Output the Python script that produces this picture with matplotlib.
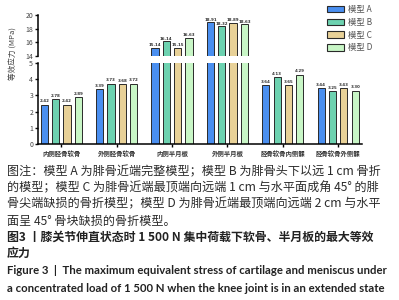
import matplotlib
matplotlib.use("Agg")
import matplotlib.pyplot as plt
import numpy as np
from matplotlib.patches import Patch

categories = ["内侧胫骨软骨", "外侧胫骨软骨", "内侧半月板", "外侧半月板", "胫骨软骨内侧髁", "胫骨软骨外侧髁"]
series_names = ["模型 A", "模型 B", "模型 C", "模型 D"]
model_a = [2.42, 3.39, 15.14, 18.91, 3.64, 3.44]
model_b = [2.78, 3.73, 16.14, 18.32, 4.13, 3.25]
model_c = [2.42, 3.68, 15.15, 18.89, 3.65, 3.43]
model_d = [2.89, 3.72, 16.63, 18.63, 4.29, 3.30]
colors = ["#4a8ff0", "#6dd2b0", "#e8d197", "#c8f6c6"]

caption_lines = [
    "图注：模型 A 为腓骨近端完整模型；模型 B 为腓骨头下以远 1 cm 骨折",
    "的模型；模型 C 为腓骨近端最顶端向远端 1 cm 与水平面成角 45° 的腓",
    "骨尖端缺损的骨折模型；模型 D 为腓骨近端最顶端向远端 2 cm 与水平",
    "面呈 45° 骨块缺损的骨折模型。",
]
title_cn = ["图3 丨膝关节伸直状态时 1 500 N 集中荷载下软骨、半月板的最大等效", "应力"]
title_en = ["Figure 3  |  The maximum equivalent stress of cartilage and meniscus under",
            "a concentrated load of 1 500 N when the knee joint is in an extended state"]

plt.rcParams['font.family'] = ['Noto Sans CJK SC', 'DejaVu Sans']

fig = plt.figure(figsize=(3.99, 3.0), dpi=100)
W, H = 399, 300
left = 38 / W
right = 362 / W
ax_lo = fig.add_axes([left, 1 - 144 / H, right - left, (144 - 63) / H])
ax_hi = fig.add_axes([left, 1 - 56 / H, right - left, (56 - 15) / H])

series = [model_a, model_b, model_c, model_d]
x = np.arange(len(categories))
bw = 0.13
stride = 0.205
for i, (vals, c) in enumerate(zip(series, colors)):
    pos = x + (i - 1.5) * stride
    for ax in (ax_lo, ax_hi):
        ax.bar(pos, vals, width=bw, color=c, edgecolor="#2a2a2a", linewidth=0.7)
    for p, v in zip(pos, vals):
        target = ax_hi if v > 5 else ax_lo
        target.text(p, v + (0.12 if v > 5 else 0.08), f"{v:.2f}", ha="center", va="bottom",
                    fontsize=2.9, fontweight="bold", color="#333333", family="DejaVu Sans")

for ax in (ax_lo, ax_hi):
    ax.set_xlim(-0.42, 5.43)
    for s in ("top", "right"):
        ax.spines[s].set_visible(False)
    ax.spines["left"].set_linewidth(1.1)
    ax.tick_params(axis="y", labelsize=5, colors="#111111", length=2.5, width=1, pad=1,
                   labelcolor="#444444")

ax_lo.set_ylim(0, 5)
ax_lo.set_yticks([0, 1, 2, 3, 4, 5])
ax_lo.spines["bottom"].set_linewidth(1.1)
ax_lo.set_xticks(x)
ax_lo.set_xticklabels(categories, fontsize=4.6, fontweight="bold", color="#333333")
ax_lo.tick_params(axis="x", length=2.5, width=1, pad=1.5)

ax_hi.set_ylim(14, 20)
ax_hi.set_yticks([14, 16, 18, 20])
ax_hi.spines["bottom"].set_visible(False)
ax_hi.set_xticks([])

fig.text(13 / W, 1 - 53 / H, "等效应力 (MPa)", rotation=90, ha="center", va="center",
         fontsize=5.5, color="#444444")

handles = [Patch(facecolor=c, edgecolor="#2a2a2a", linewidth=0.8) for c in colors]
fig.legend(handles, series_names, loc="upper left", bbox_to_anchor=(322 / W, 1 - 0 / H),
           frameon=False, fontsize=6, handlelength=2.0, handleheight=0.85,
           labelspacing=0.45, handletextpad=0.5, labelcolor="#555555", borderaxespad=0.2)

ys = [172, 188, 204, 221]
for y, line in zip(ys, caption_lines):
    fig.text(7 / W, 1 - y / H, line, ha="left", va="center", fontsize=8.7, color="#2a2a2a")
for y, line in zip([237, 253], title_cn):
    fig.text(7 / W, 1 - y / H, line, ha="left", va="center", fontsize=8.6,
             fontweight="bold", color="#222222")
for y, line in zip([270, 288], title_en):
    fig.text(7 / W, 1 - y / H, line, ha="left", va="center", fontsize=8.2,
             fontweight="bold", color="#222222", family=["Lato", "DejaVu Sans"])

fig.savefig("out.png", dpi=100)
